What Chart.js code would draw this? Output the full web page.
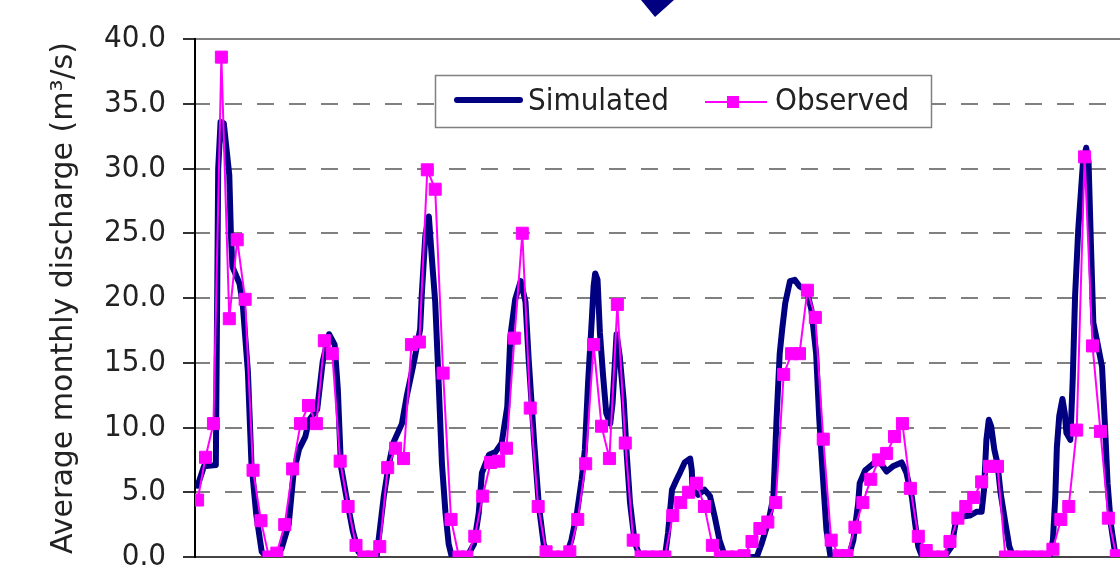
<!DOCTYPE html>
<html>
<head>
<meta charset="utf-8">
<script src="https://cdn.jsdelivr.net/npm/chart.js@4.4.0/dist/chart.umd.min.js"></script>
<style>
  html, body { margin: 0; padding: 0; background: #fff; overflow: hidden; }
  canvas { display: block; }
</style>
</head>
<body>
<canvas id="dischargeChart" width="1120" height="565"></canvas>
<script>
// observed discharge, one value per month (month index 0..116)
const obsValues = [
  4.4, 7.7, 10.3, 38.6, 18.4, 24.5, 19.9, 6.7, 2.8, 0,
  0.3, 2.5, 6.8, 10.3, 11.7, 10.3, 16.7, 15.7, 7.4, 3.9,
  0.9, 0, 0, 0.8, 6.9, 8.4, 7.6, 16.4, 16.6, 29.9,
  28.4, 14.2, 2.9, 0, 0, 1.6, 4.7, 7.3, 7.4, 8.4,
  16.9, 25.0, 11.5, 3.9, 0.4, 0, 0, 0.4, 2.9, 7.2,
  16.4, 10.1, 7.6, 19.5, 8.8, 1.3, 0, 0, 0, 0,
  3.2, 4.2, 5.0, 5.7, 3.9, 0.9, 0, 0, 0, 0.1,
  1.2, 2.2, 2.7, 4.2, 14.1, 15.7, 15.7, 20.6, 18.5, 9.1,
  1.3, 0.1, 0.1, 2.3, 4.2, 6.0, 7.5, 8.0, 9.3, 10.3,
  5.3, 1.6, 0.5, 0, 0, 1.2, 3.0, 3.9, 4.6, 5.8,
  7.0, 7.0, 0, 0, 0, 0, 0, 0, 0.6, 2.9,
  3.9, 9.8, 30.9, 16.3, 9.7, 3.0, 0.1
];

// simulated series has finer steps than monthly, so it keeps its own month positions
const simMonths = [
  0, 0.8, 2.3, 2.6, 2.9, 3.3, 4.0, 4.2, 4.4, 5.3, 5.7, 6.35, 6.8, 7.4, 8.1, 8.7, 9.8,
  10.6, 11.5, 12.1, 12.8, 13.6, 14.1, 15.1, 15.8, 16.6, 17.3, 17.7, 18.1, 18.8, 19.6, 20.3, 20.9,
  22.6, 23.5, 24.1, 24.7, 25.8, 26.4, 27.3, 28.1, 28.3, 28.75, 29.2, 29.6, 30.0, 30.4, 30.85, 31.3, 31.7, 32.1,
  34.0, 34.9, 35.5, 35.9, 36.8, 37.6, 38.4, 39.1, 39.5, 40.1, 40.8, 41.4, 41.8, 42.5, 43.1, 43.7, 44.4,
  46.5, 47.2, 47.9, 48.5, 48.9, 49.3, 49.8, 50.0, 50.2, 50.5, 50.8, 51.2, 51.6, 52.1, 52.4, 52.9, 53.3, 53.8, 54.2, 54.6, 55.2, 55.9,
  59.0, 59.4, 59.9, 60.5, 60.9, 61.5, 62.2, 62.4, 62.5, 63.2, 64.0, 64.7, 65.3, 65.9, 66.5, 66.9,
  70.6, 71.2, 72.1, 72.7, 73.1, 73.5, 73.8, 74.2, 74.8, 75.4, 76.0, 76.9, 77.5, 78.1, 78.5, 78.9, 79.4, 79.9,
  82.2, 82.8, 83.4, 83.6, 84.3, 85.1, 85.7, 86.3, 87.0, 87.8, 88.9, 89.5, 90.2, 90.6, 91.0, 91.5,
  94.3, 95.2, 95.7, 96.4, 97.5, 98.4, 99.0, 99.3, 99.6, 99.9, 100.2, 100.6, 101.0, 101.4, 102.0, 102.5, 103.0,
  107.6, 108.0, 108.3, 108.5, 108.8, 109.2, 109.5, 109.7, 110.2, 110.5, 110.8, 111.2, 111.8, 112.2, 112.5,
  112.8, 113.1, 113.6, 114.2, 114.6, 114.9, 115.3, 115.9, 116.5
];
const simValues = [
  5.5, 7.0, 7.1, 30.0, 33.6, 33.5, 29.5, 25.0, 22.4, 21.1, 19.5, 14.3, 7.2, 3.3, 0.4, 0, 0,
  0.65, 2.5, 6.4, 8.3, 9.3, 10.6, 11.4, 15.1, 17.2, 16.4, 13.0, 7.0, 4.6, 2.0, 0.4, 0,
  0, 4.65, 7.0, 8.8, 10.3, 12.4, 15.0, 17.6, 20.2, 24.8, 26.3, 22.9, 19.7, 14.0, 7.2, 3.4, 1.0, 0,
  0, 1.0, 3.4, 6.5, 7.9, 8.1, 8.8, 11.6, 17.1, 19.9, 21.3, 19.7, 15.3, 8.8, 3.9, 1.0, 0,
  0, 1.3, 3.4, 6.0, 8.3, 13.4, 18.6, 20.9, 21.9, 21.4, 17.3, 14.0, 11.1, 10.3, 11.9, 17.2, 15.5, 12.1, 7.8, 4.2, 1.1, 0,
  0, 1.85, 5.2, 6.0, 6.5, 7.3, 7.6, 6.7, 5.2, 4.8, 5.2, 4.7, 3.1, 1.3, 0.2, 0,
  0, 1.0, 2.8, 4.6, 10.6, 15.7, 17.5, 19.6, 21.3, 21.4, 20.9, 20.6, 19.1, 15.7, 10.6, 6.7, 2.1, 0.1,
  0, 1.3, 4.1, 5.7, 6.7, 7.1, 7.4, 7.2, 6.6, 7.0, 7.3, 6.5, 4.6, 2.6, 0.8, 0,
  0, 0.8, 2.6, 3.1, 3.2, 3.5, 3.5, 5.2, 9.05, 10.6, 10.1, 8.3, 7.2, 4.9, 2.6, 0.8, 0,
  0, 1.3, 4.65, 8.5, 10.9, 12.2, 11.1, 9.6, 9.05, 13.7, 20.2, 25.3, 30.5, 31.6, 30.5,
  24.1, 18.1, 16.6, 14.7, 9.8, 5.7, 2.6, 0.1, 0
];

const yTicks = [0, 5, 10, 15, 20, 25, 30, 35, 40];
const seriesNames = ["Simulated", "Observed"];
const axisTitle = "Average monthly discharge (m³/s)";

const navy = "#000080";
const magenta = "#ff00ff";
const condensed = '"DejaVu Sans Condensed", "DejaVu Sans", sans-serif';

// legend box sits inside the plot, plus the arrow tip cut off at the top
const extras = {
  id: "extras",
  afterDraw(chart) {
    const ctx = chart.ctx;
    ctx.save();
    ctx.fillStyle = "#fff";
    ctx.fillRect(435, 75, 497, 52);
    ctx.strokeStyle = "#808080";
    ctx.lineWidth = 1.5;
    ctx.strokeRect(435.5, 75.5, 496, 52);

    ctx.lineCap = "round";
    ctx.strokeStyle = navy;
    ctx.lineWidth = 6;
    ctx.beginPath();
    ctx.moveTo(457, 100);
    ctx.lineTo(520, 100);
    ctx.stroke();

    ctx.lineCap = "butt";
    ctx.strokeStyle = magenta;
    ctx.lineWidth = 2;
    ctx.beginPath();
    ctx.moveTo(705, 102);
    ctx.lineTo(767, 102);
    ctx.stroke();
    ctx.fillStyle = magenta;
    ctx.fillRect(727, 96, 12, 12);

    ctx.fillStyle = "#222";
    ctx.font = "31px " + condensed;
    ctx.textBaseline = "middle";
    ctx.fillText(seriesNames[0], 528, 102);
    ctx.fillText(seriesNames[1], 775, 102);

    ctx.fillStyle = navy;
    ctx.beginPath();
    ctx.moveTo(641, 0);
    ctx.lineTo(674, 0);
    ctx.lineTo(655, 17);
    ctx.closePath();
    ctx.fill();
    ctx.restore();
  }
};

new Chart(document.getElementById("dischargeChart"), {
  type: "line",
  data: {
    datasets: [
      {
        label: seriesNames[0],
        data: simMonths.map((m, k) => ({ x: m, y: simValues[k] })),
        borderColor: navy,
        borderWidth: 6,
        borderJoinStyle: "round",
        borderCapStyle: "round",
        pointRadius: 0,
        order: 2
      },
      {
        label: seriesNames[1],
        data: obsValues.map((v, i) => ({ x: i, y: v })),
        borderColor: magenta,
        backgroundColor: magenta,
        borderWidth: 2,
        pointStyle: "rect",
        pointRadius: 8.5,
        pointBorderWidth: 1,
        order: 1
      }
    ]
  },
  options: {
    responsive: false,
    animation: false,
    devicePixelRatio: 1,
    layout: { autoPadding: false, padding: { top: 39, right: 0, bottom: 8, left: 0 } },
    plugins: { legend: { display: false }, tooltip: { enabled: false } },
    scales: {
      x: {
        type: "linear",
        min: -0.33,
        max: 116.47,
        ticks: { display: false },
        grid: { display: false, drawTicks: false },
        border: { display: true, color: "#444", width: 2 }
      },
      y: {
        min: 0,
        max: 40,
        afterBuildTicks(scale) {
          scale.ticks = yTicks.map(v => ({ value: v }));
        },
        afterFit(scale) {
          scale.width = 195;
          scale.paddingTop = 0;
          scale.paddingBottom = 0;
        },
        ticks: {
          callback: v => v.toFixed(1),
          color: "#222",
          padding: 17,
          font: { family: condensed, size: 31 }
        },
        grid: { color: "#808080", lineWidth: 2, tickLength: 12, tickColor: "#333", tickWidth: 2 },
        border: {
          color: "#000",
          width: 2,
          dash: c => (c.tick && c.tick.value > 0 && c.tick.value < 40) ? [17, 15] : [],
          dashOffset: 3
        },
        title: {
          display: true,
          text: axisTitle,
          color: "#222",
          font: { family: '"DejaVu Sans", sans-serif', size: 30 },
          padding: { top: 46, bottom: 10 }
        }
      }
    }
  },
  plugins: [extras]
});
</script>
</body>
</html>
